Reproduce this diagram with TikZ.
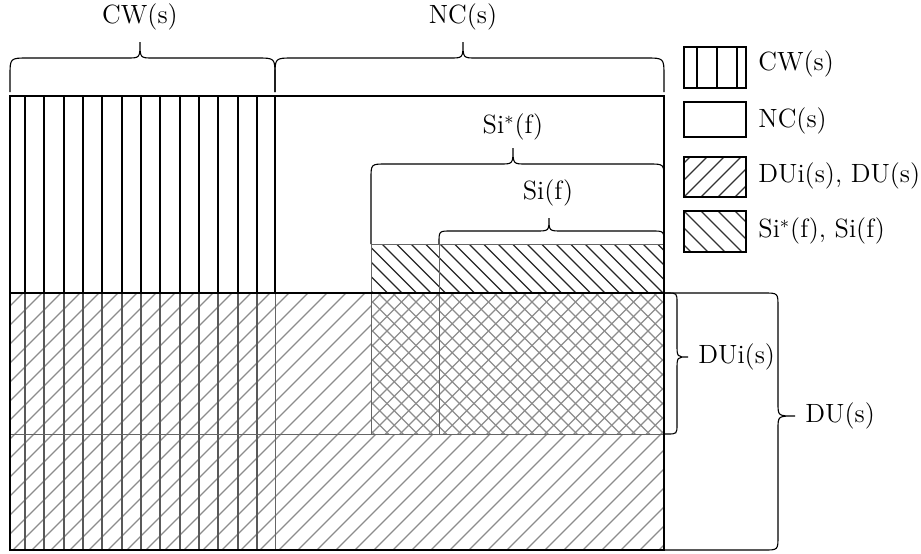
\documentclass[tikz,border=0pt]{standalone}
\begin{document}
\newcommand\mybraceh[7]{\draw[brace] (#1,#3) -- (#1,#4+#7) .. controls (#1,#4) .. (#1+#7,#4) -- (#6-13,#4) .. controls (#6,#4) .. (#6,#5) .. controls (#6,#4) .. (#6+13,#4) -- (#2-#7,#4) .. controls (#2,#4) .. (#2,#4+#7) -- (#2,#3);}
\newcommand\mybracev[7]{\draw[brace] (#3,#1) -- (#4-#7,#1) .. controls (#4,#1) .. (#4,#1+#7) -- (#4,#6-13) .. controls (#4,#6) .. (#5,#6) .. controls (#4,#6) .. (#4,#6+13) -- (#4,#2-#7) .. controls (#4,#2) .. (#4-#7,#2) -- (#3,#2);}
\begin{tikzpicture}[x=0.5pt,y=-0.5pt,
  lbl/.style={font=\fontsize{13.2}{16}\selectfont, inner sep=0pt},
  brace/.style={draw=black, line width=0.55pt},
  frame/.style={draw=black, line width=0.6pt},
  thinb/.style={draw=black!60, line width=0.5pt},
  cwline/.style={line width=0.9pt, black},
  cwlow/.style={line width=0.9pt, black!65},
  hne/.style={black!45, line width=0.55pt},
  hnw/.style={black!85, line width=0.55pt},
  hx/.style={black!45, line width=0.55pt},
  hleg/.style={black!80, line width=0.6pt}]
\useasboundingbox (0,0) rectangle (921,553);

% DU hatch (outside overlap)
\begin{scope}
\clip (10,293) rectangle (371,434) (10,434) rectangle (664,550);
\foreach \k in {-20,...,40} \draw[hne] (\k*19+3,560) -- ++(300,-300);
\end{scope}
% overlap crosshatch
\begin{scope}
\clip (371,293) rectangle (664,434);
\foreach \k in {0,...,33} {\draw[hx] (\k*14.5+220,440) -- ++(160,-160); \draw[hx] (\k*14.5+220,280) -- ++(160,160);}
\end{scope}
% Si* hatch above DU
\begin{scope}
\clip (371,244) rectangle (664,293);
\foreach \k in {0,...,28} \draw[hnw] (\k*14.5+310,230) -- ++(80,80);
\end{scope}

% CW vertical lines
\foreach \i in {0,...,12} {
  \draw[cwline] (25+\i*19.33,96) -- (25+\i*19.33,293);
  \draw[cwlow] (25+\i*19.33,293) -- (25+\i*19.33,550);
}

% inner borders
\draw[thinb] (10,434) -- (664,434);
\draw[thinb] (275,293) -- (275,550);
\draw[thinb] (371,244) -- (371,434);
\draw[thinb] (439,244) -- (439,434);
\draw[thinb] (371,244) -- (664,244);
\draw[frame] (275,96) -- (275,293);
\draw[frame] (10,293) -- (664,293);
\draw[frame] (10,96) rectangle (664,550);

% braces
\mybraceh{10}{275}{92}{58}{42}{140}{18}
\mybraceh{275}{664}{92}{58}{42}{463}{18}
\mybraceh{371}{664}{244}{164}{148}{513}{15}
\mybraceh{439}{664}{244}{231}{218}{549}{12}
\mybracev{293}{434}{664}{677}{688}{357}{10}
\mybracev{293}{550}{664}{778}{795}{416}{14}

% labels
\node[lbl] (cw) at (140,17) {CW(s)};
\node[lbl] (nc) at (463,17) {NC(s)};
\node[lbl] (sistar) at (513,127) {Si$^*$(f)};
\node[lbl] (si) at (548,193) {Si(f)};
\node[lbl,anchor=west] (dui) at (698,357) {DUi(s)};
\node[lbl,anchor=west] (du) at (805,416) {DU(s)};

% legend
\draw[frame] (684,47) rectangle (746,88);
\foreach \x in {697,717,737} \draw[cwline] (\x,47) -- (\x,88);
\draw[frame] (684,102) rectangle (746,137);
\begin{scope}
\clip (684,157) rectangle (746,197);
\foreach \k in {0,...,8} \draw[hleg] (\k*17+630,200) -- ++(60,-60);
\end{scope}
\draw[frame] (684,157) rectangle (746,197);
\begin{scope}
\clip (684,211) rectangle (746,252);
\foreach \k in {0,...,8} \draw[hleg] (\k*17+630,208) -- ++(60,60);
\end{scope}
\draw[frame] (684,211) rectangle (746,252);
\node[lbl,anchor=west] (l1) at (758,64) {CW(s)};
\node[lbl,anchor=west] (l2) at (758,121) {NC(s)};
\node[lbl,anchor=west] (l3) at (758,176) {DUi(s), DU(s)};
\node[lbl,anchor=west] (l4) at (758,231) {Si$^*$(f), Si(f)};
\end{tikzpicture}
\end{document}
